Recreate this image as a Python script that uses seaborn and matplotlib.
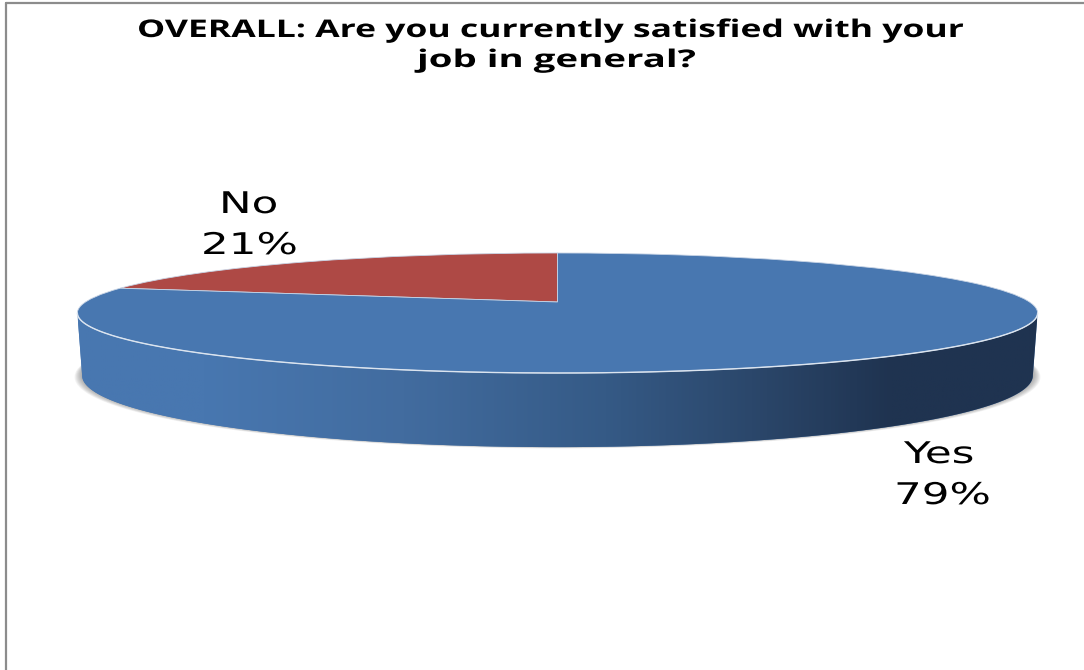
import numpy as np
import seaborn as sns
import matplotlib
matplotlib.use("Agg")
import matplotlib.pyplot as plt
from matplotlib.colors import LinearSegmentedColormap
from matplotlib.patheffects import AbstractPathEffect
from matplotlib.transforms import Affine2D, Transform

# data
labels = ["No", "Yes"]
values = [21, 79]
slice_colors = ["#AE4945", "#4877B0"]
title_lines = ["OVERALL: Are you currently satisfied with your", "job in general?"]

# pie geometry, in figure pixels
CX, CY = 557.5, 302.0   # where the slices meet
KX = 472.0              # width
KY = 58.0               # height
TILT = 0.1833           # perspective
DEPTH = 60.5


class Tilted(Transform):
    """Lays the unit circle of the pie down on the table."""
    input_dims = 2
    output_dims = 2

    def transform_non_affine(self, values):
        u, v = np.asarray(values).T
        w = 1 + TILT * v
        return np.column_stack([CX + KX * u / w, CY - KY * v / w])


class Stretch(AbstractPathEffect):
    """The original picture is stretched sideways, so its text is too."""

    def __init__(self, sx):
        super().__init__()
        self.sx = sx

    def draw_path(self, renderer, gc, tpath, affine, rgbFace=None):
        renderer.draw_path(gc, tpath, Affine2D().scale(self.sx, 1) + affine, rgbFace)


def bottom_ring(theta, grow=1.0, drop=0.0):
    u, v = np.cos(theta), np.sin(theta)
    w = 1 + TILT * v
    x = CX + 0.99 * grow * KX * u / w
    y = CY - KY * v / w + DEPTH / w + drop
    return x, y


sns.set_theme(style="white")
fig = plt.figure(figsize=(10.84, 6.7), dpi=100)
ax = fig.add_axes([0, 0, 1, 1])

# top of the pie
wedges, _ = ax.pie(
    values,
    colors=slice_colors,
    startangle=90,
    wedgeprops={"edgecolor": "#c9d5e6", "linewidth": 0.6},
)
for w in wedges:
    w.set_transform(Tilted() + ax.transData)
    w.set_zorder(5)

# front wall
edge = np.arcsin(TILT)
theta = np.linspace(np.pi + edge, 2 * np.pi - edge, 300)
top_x, top_y = Tilted().transform_non_affine(np.column_stack([np.cos(theta), np.sin(theta)])).T
low_x, low_y = bottom_ring(theta)

# soft shadow under the wall
all_round = np.linspace(0, 2 * np.pi, 300)
for i in range(8, 0, -1):
    sx, sy = bottom_ring(all_round, grow=1 + 0.002 * i, drop=0.3 * i - 1)
    ax.fill(sx, sy, color="#555555", alpha=0.07, lw=0, zorder=1)

wall = ax.fill(
    np.r_[top_x, low_x[::-1]], np.r_[top_y, low_y[::-1]],
    color="#4877B0", lw=0, zorder=2,
)[0]
side_cmap = LinearSegmentedColormap.from_list(
    "side",
    [(0.0, "#4877B0"), (0.13, "#4877B0"), (0.34, "#426C9F"),
     (0.55, "#355A86"), (0.72, "#2A4568"), (0.85, "#1F3350"), (1.0, "#1F3350")],
)
grad = ax.imshow(
    np.linspace(0, 1, 512)[None, :],
    extent=(78, 1037, 460, 300),
    cmap=side_cmap, aspect="auto", zorder=3,
)
grad.set_clip_path(wall)

ax.plot(top_x, top_y, color="#dbe4ef", lw=1.0, zorder=6)

# text
label_style = dict(family="DejaVu Sans", fontsize=21.5, color="black",
                   path_effects=[Stretch(1.46)], zorder=7)
ax.text(219, 213, labels[0], **label_style)
ax.text(201, 254, f"{values[0]}%", **label_style)
ax.text(904, 463, labels[1], **label_style)
ax.text(894, 504, f"{values[1]}%", **label_style)

title_style = dict(family="Open Sans", fontweight="bold", fontsize=17.5, color="black", zorder=7)
ax.text(137, 37, title_lines[0], path_effects=[Stretch(1.46)], **title_style)
ax.text(417, 67, title_lines[1], path_effects=[Stretch(1.58)], **title_style)

# chart frame, only the left and top edge are in the picture
ax.axvline(6, ymax=1 - 3 / 670, color="#8c8c8c", lw=1.6)
ax.axhline(3, xmin=6 / 1084, color="#8c8c8c", lw=1.6)

ax.set_aspect("auto")
ax.set_xlim(0, 1084)
ax.set_ylim(670, 0)
ax.axis("off")

fig.savefig("out.png", dpi=100, facecolor="white")
